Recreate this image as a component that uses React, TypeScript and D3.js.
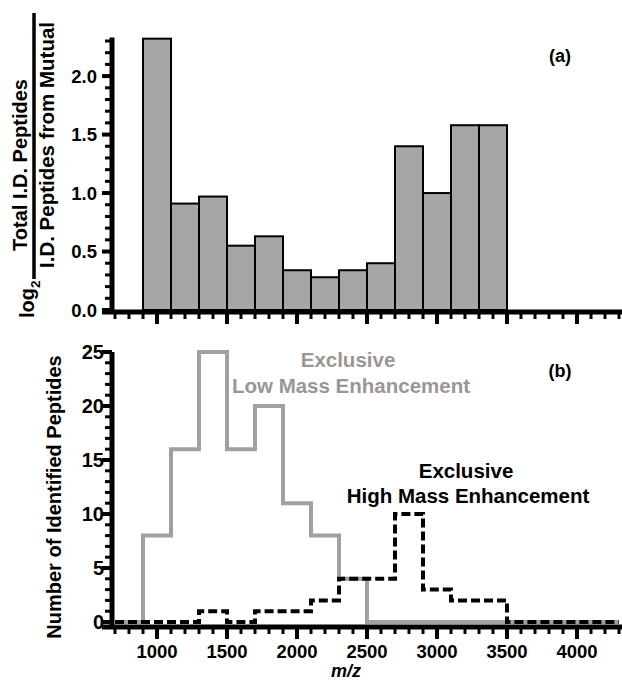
import * as d3 from "d3";

// bin edges (m/z), 200-wide bins
const binEdges = [700, 900, 1100, 1300, 1500, 1700, 1900, 2100, 2300, 2500, 2700, 2900, 3100, 3300, 3500, 3700, 3900, 4100, 4300];
// (a) log2 ratio per bin (null = no bar)
const ratioValues = [null, 2.32, 0.91, 0.97, 0.55, 0.63, 0.34, 0.28, 0.34, 0.4, 1.4, 1.0, 1.58, 1.58, 0, 0, 0, 0];
// (b) counts per bin
const lowMassCounts = [0, 8, 16, 25, 16, 20, 11, 8, 4, 0, 0, 0, 0, 0, 0, 0, 0, 0];
const highMassCounts = [0, 0, 0, 1, 0, 1, 1, 2, 4, 4, 10, 3, 2, 2, 0, 0, 0, 0];

const xTickLabels = [1000, 1500, 2000, 2500, 3000, 3500, 4000];
const ratioTicks = [0, 0.5, 1.0, 1.5, 2.0];
const countTicks = [0, 5, 10, 15, 20, 25];

const FONT = "'Liberation Sans', Arial, Helvetica, sans-serif";
const AXIS_X = 112;
const GREY_TEXT = "#9b9693";

const App = () => {
  const x = d3.scaleLinear().domain([700, 4300]).range([115, 619]);
  const yA = d3.scaleLinear().domain([0, 2.33]).range([310, 37.5]);
  const yB = d3.scaleLinear().domain([0, 25]).range([622, 352]);

  const minorX = d3.range(700, 4301, 100);
  const minorA = d3.range(0, 2.31, 0.1);
  const minorB = d3.range(0, 26, 1);

  const axisA = yA(0) + 2;
  const axisB = yB(0) + 5;

  const stepLine = (vals: number[], y: d3.ScaleLinear<number, number>) =>
    d3
      .line<number>()
      .x((d, i) => x(binEdges[i]))
      .y((d) => y(d))
      .curve(d3.curveStepAfter)([...vals, vals[vals.length - 1]]);

  const xAxis = (yPos: number, withLabels: boolean) => (
    <g>
      <line x1={AXIS_X - 10} x2={622} y1={yPos} y2={yPos} stroke="#000" strokeWidth={5} />
      {minorX.map((v) => {
        const major = xTickLabels.includes(v);
        return (
          <line key={v} x1={x(v)} x2={x(v)} y1={yPos} y2={yPos + (major ? 12 : 7)} stroke="#000" strokeWidth={major ? 4 : 3} />
        );
      })}
      {withLabels &&
        xTickLabels.map((v) => (
          <text key={v} x={x(v)} y={yPos + 31} textAnchor="middle" fontSize={18.5} fontWeight="bold">
            {v}
          </text>
        ))}
    </g>
  );

  return (
    <svg width={622} height={684} style={{ position: "absolute", left: 0, top: 0, background: "#fff" }} fontFamily={FONT}>
      {/* ---------- (a) ---------- */}
      {ratioValues.map((v, i) =>
        v === null ? null : (
          <rect
            key={i}
            x={x(binEdges[i])}
            y={yA(v)}
            width={x(binEdges[i + 1]) - x(binEdges[i])}
            height={yA(0) - yA(v)}
            fill="#a6a6a6"
            stroke="#000"
            strokeWidth={2}
          />
        )
      )}
      <line x1={AXIS_X} x2={AXIS_X} y1={yA.range()[1]} y2={axisA} stroke="#000" strokeWidth={5} />
      {minorA.map((v, i) => {
        const major = i % 5 === 0;
        return (
          <line key={i} x1={AXIS_X - (major ? 10 : 7)} x2={AXIS_X} y1={yA(v)} y2={yA(v)} stroke="#000" strokeWidth={major ? 4 : 3} />
        );
      })}
      {ratioTicks.map((v) => (
        <text key={v} x={97} y={yA(v)} dy="0.36em" textAnchor="end" fontSize={18.5} fontWeight="bold">
          {v.toFixed(1)}
        </text>
      ))}
      {xAxis(axisA, false)}
      <text x={560} y={62} textAnchor="middle" fontSize={18} fontWeight="bold">(a)</text>

      {/* fraction y label */}
      <text transform="translate(27,165) rotate(-90)" textAnchor="middle" fontSize={20} fontWeight="bold">
        Total I.D. Peptides
      </text>
      <line x1={34} x2={34} y1={13} y2={279} stroke="#000" strokeWidth={3.5} />
      <text transform="translate(54,145) rotate(-90)" textAnchor="middle" fontSize={20.5} fontWeight="bold">
        I.D. Peptides from Mutual
      </text>
      <text transform="translate(34,318) rotate(-90)" textAnchor="start" fontSize={20} fontWeight="bold">
        log<tspan fontSize={13.5} dy={6}>2</tspan>
      </text>

      {/* ---------- (b) ---------- */}
      <path d={stepLine(lowMassCounts, yB) ?? ""} fill="none" stroke="#a0a0a0" strokeWidth={4} />
      <path d={stepLine(highMassCounts, yB) ?? ""} fill="none" stroke="#000" strokeWidth={4} strokeDasharray="9,4" />
      <line x1={AXIS_X} x2={AXIS_X} y1={yB(25)} y2={axisB} stroke="#000" strokeWidth={5} />
      {minorB.map((v) => {
        const major = v % 5 === 0;
        return (
          <line key={v} x1={AXIS_X - (major ? 10 : 7)} x2={AXIS_X} y1={yB(v)} y2={yB(v)} stroke="#000" strokeWidth={major ? 4 : 3} />
        );
      })}
      {countTicks.map((v) => (
        <text key={v} x={104} y={yB(v)} dy="0.36em" textAnchor="end" fontSize={20} fontWeight="bold">
          {v}
        </text>
      ))}
      {xAxis(axisB, true)}
      <text x={560} y={377} textAnchor="middle" fontSize={18} fontWeight="bold">(b)</text>

      <text x={348} y={367} textAnchor="middle" fontSize={20.5} fontWeight="bold" fill={GREY_TEXT}>Exclusive</text>
      <text x={351} y={393} textAnchor="middle" fontSize={20.5} fontWeight="bold" fill={GREY_TEXT}>Low Mass Enhancement</text>
      <text x={466} y={478} textAnchor="middle" fontSize={20.5} fontWeight="bold">Exclusive</text>
      <text x={468} y={503} textAnchor="middle" fontSize={20.5} fontWeight="bold">High Mass Enhancement</text>

      <text transform="translate(61,497) rotate(-90)" textAnchor="middle" fontSize={20} fontWeight="bold">
        Number of Identified Peptides
      </text>
      <text x={346} y={677} textAnchor="middle" fontSize={18} fontWeight="bold" fontStyle="italic">m/z</text>
    </svg>
  );
};

export default App;
